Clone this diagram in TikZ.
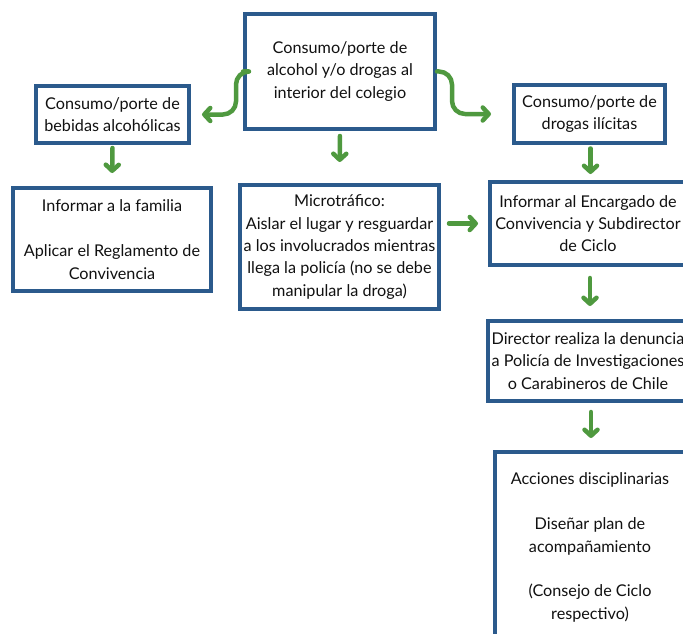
\documentclass[tikz,border=0pt]{standalone}
\usepackage{fontspec}
\setmainfont{Lato}
\usetikzlibrary{arrows.meta}
\definecolor{boxblue}{HTML}{2B5A8C}
\definecolor{arrgreen}{HTML}{4F993F}
\definecolor{txt}{HTML}{111111}
\tikzset{
  box/.style={draw=boxblue, line width=4pt, fill=white, align=center, inner sep=2pt,
    text=txt, font=\fontsize{16.2}{22.4}\selectfont},
  flow/.style={draw=arrgreen, line width=4.5pt, line cap=round, line join=round,
    -{Straight Barb[length=6pt,width=13pt,line cap=round,line join=round]}},
}
\begin{document}
\begin{tikzpicture}[x=1pt,y=-1pt]
\useasboundingbox (0,0) rectangle (683,634);
\clip (0,0) rectangle (683,634);
\fill[white] (0,0) rectangle (683,634);

\node[box, minimum width=190pt, minimum height=115pt] (top) at (340,71.5)
  {Consumo/porte de\\alcohol y/o drogas al\\interior del colegio};
\node[box, minimum width=153pt, minimum height=57pt] (ltop) at (112.5,114.5)
  {Consumo/porte de\\bebidas alcohólicas};
\node[box, minimum width=198pt, minimum height=103pt] (lbot) at (112,239.5)
  {Informar a la familia\\[22.4pt]Aplicar el Reglamento de\\Convivencia};
\node[box, minimum width=199pt, minimum height=124pt] (mid) at (339.5,247)
  {Microtráfico:\\Aislar el lugar y resguardar\\a los involucrados mientras\\llega la policía (no se debe\\manipular la droga)};
\node[box, minimum width=151pt, minimum height=57pt] (rtop) at (589.5,114)
  {Consumo/porte de\\drogas ilícitas};
\node[box, minimum width=196pt, minimum height=83pt] (r2) at (588,223.5)
  {Informar al Encargado de\\Convivencia y Subdirector\\de Ciclo};
\node[box, minimum width=200pt, minimum height=80pt] (r3) at (588,361)
  {Director realiza la denuncia\\a Policía de Investigaciones\\o Carabineros de Chile};
\node[box, minimum width=190pt, minimum height=191pt] (r4) at (590,547.5)
  {Acciones disciplinarias\\[22.4pt]Diseñar plan de\\acompañamiento\\[22.4pt](Consejo de Ciclo\\respectivo)};

\draw[flow, rounded corners=13pt, shorten >=11pt] (top.west) -- ++(-7,0) |- (ltop.east);
\draw[flow, rounded corners=13pt, shorten >=21pt] (top.east) -- ++(15,0) |- (rtop.west);
\draw[flow, shorten <=3pt, shorten >=13pt] (ltop.south) -- (lbot.north);
\draw[flow, shorten <=5pt, shorten >=21pt] (top.south) -- (mid.north);
\draw[flow, shorten <=4pt, shorten >=6pt] ([xshift=1pt]rtop.south) -- ([xshift=1pt]rtop.south |- r2.north);
\draw[flow, shorten <=8pt, shorten >=10pt] (mid.east |- r2.west) -- (r2.west);
\draw[flow, shorten <=11pt, shorten >=13pt] ([xshift=2pt]r2.south) -- ([xshift=2pt]r2.south |- r3.north);
\draw[flow, shorten <=9pt, shorten >=12pt] ([xshift=3pt]r3.south) -- ([xshift=3pt]r3.south |- r4.north);
\end{tikzpicture}
\end{document}
